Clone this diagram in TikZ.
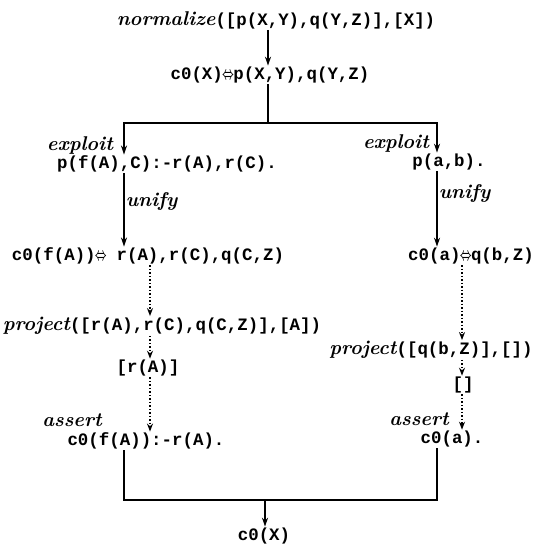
\documentclass[tikz,border=0pt]{standalone}
\usepackage{fontspec}
\usepackage{graphicx}
\usetikzlibrary{arrows.meta}
\newfontfamily\codefont{Liberation Mono}
\newcommand{\LRarr}{\makebox[0.6em]{\scalebox{0.6}[1.05]{\boldmath$\Leftrightarrow$}}}
\newcommand{\kwd}[1]{{\fontsize{20}{23}\selectfont\rmfamily\bfseries\itshape #1}}
\tikzset{
  tt/.style={font=\fontsize{17.5}{21}\selectfont\codefont\bfseries, inner sep=1pt},
  kw/.style={font=\fontsize{20}{23}\selectfont\bfseries\itshape, inner sep=1pt},
  arr/.style={line width=1.6pt, -{Stealth[length=9pt,width=6pt]}},
  dotarr/.style={line width=1.5pt, dash pattern=on 1.5pt off 2pt, -{Stealth[length=8pt,width=6pt]}},
  ln/.style={line width=1.6pt}
}
\begin{document}
\begin{tikzpicture}[x=1bp,y=-1bp]
\useasboundingbox (0,0) rectangle (537,546);
% column guides
\coordinate (xc) at (268,0);
\coordinate (xl) at (124,0);
\coordinate (xr) at (437,0);
\coordinate (dl) at (150,0);
\coordinate (dr) at (462,0);
\coordinate (xb) at (265,0);
\coordinate (bar) at (0,123);
\coordinate (bbar) at (0,500);
% nodes
\node[tt] (n0) at (276,20) {\kwd{normalize}([p(X,Y),q(Y,Z)],[X])};
\node[tt] (n1) at (270,75) {c0(X)\LRarr p(X,Y),q(Y,Z)};
\node[kw] (eL) at (80,146) {exploit};
\node[tt] (cL) at (167,164) {p(f(A),C):-r(A),r(C).};
\node[kw] (eR) at (396,144) {exploit};
\node[tt] (cR) at (449,162) {p(a,b).};
\node[tt] (uL) at (148,256) {c0(f(A))\LRarr~r(A),r(C),q(C,Z)};
\node[tt] (uR) at (471,256) {c0(a)\LRarr q(b,Z)};
\node[tt] (pL) at (162,326) {\kwd{project}([r(A),r(C),q(C,Z)],[A])};
\node[tt] (pR) at (431,350) {\kwd{project}([q(b,Z)],[])};
\node[tt] (rL) at (148,368) {[r(A)]};
\node[tt] (rR) at (463,385) {[]};
\node[kw] (aL) at (72,420) {assert};
\node[tt] (cAL) at (146,441) {c0(f(A)):-r(A).};
\node[kw] (aR) at (419,419) {assert};
\node[tt] (cAR) at (452,439) {c0(a).};
\node[tt] (fin) at (264,536) {c0(X)};
% connectors
\draw[arr] (n0.south -| xc) -- (n1.north -| xc);
\draw[ln] (n1.south -| xc) -- (xc |- bar);
\draw[arr] (xc |- bar) -| (cL.north -| xl);
\draw[arr] (xc |- bar) -| (cR.north -| xr);
\draw[arr] (cL.south -| xl) -- node[kw, right, pos=0.38] {unify} (uL.north -| xl);
\draw[arr] (cR.south -| xr) -- node[kw, right, pos=0.3] {unify} (uR.north -| xr);
\draw[dotarr] (uL.south -| dl) -- (pL.north -| dl);
\draw[dotarr] (pL.south -| dl) -- (rL.north -| dl);
\draw[dotarr] (rL.south -| dl) -- (cAL.north -| dl);
\draw[dotarr] (uR.south -| dr) -- (pR.north -| dr);
\draw[dotarr] (pR.south -| dr) -- (rR.north -| dr);
\draw[dotarr] (rR.south -| dr) -- (cAR.north -| dr);
\draw[ln] (cAL.south -| xl) -- (xl |- bbar) -- (xr |- bbar) -- (cAR.south -| xr);
\draw[arr] (xb |- bbar) -- (fin.north -| xb);
\end{tikzpicture}
\end{document}
